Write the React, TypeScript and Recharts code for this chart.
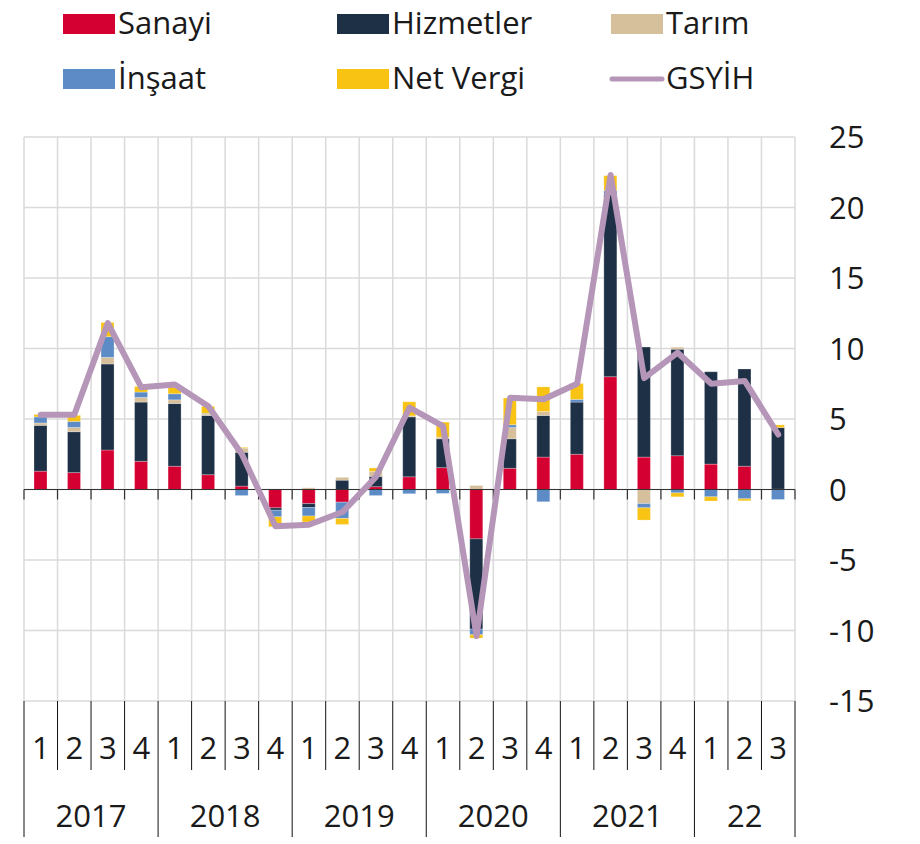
import React from "react";
import { ComposedChart, Bar, Line, XAxis, YAxis, CartesianGrid, ReferenceLine } from "recharts";

/* ---------- data (contributions to annual growth, % points) ---------- */
const quarters = ["1", "2", "3", "4", "1", "2", "3", "4", "1", "2", "3", "4", "1", "2", "3", "4", "1", "2", "3", "4", "1", "2", "3"];
const years = ["2017", "2017", "2017", "2017", "2018", "2018", "2018", "2018", "2019", "2019", "2019", "2019", "2020", "2020", "2020", "2020", "2021", "2021", "2021", "2021", "22", "22", "22"];

const sanayi = [1.3, 1.2, 2.8, 2.0, 1.65, 1.05, 0.24, -1.3, -1.0, -0.9, 0.2, 0.9, 1.55, -3.5, 1.5, 2.3, 2.5, 8.0, 2.3, 2.4, 1.8, 1.65, 0.02];
const hizmetler = [3.25, 2.9, 6.1, 4.2, 4.45, 4.2, 2.4, -0.17, -0.28, 0.66, 0.73, 4.25, 2.05, -6.4, 2.1, 2.95, 3.7, 12.9, 7.8, 7.55, 6.55, 6.9, 4.37];
const tarim = [0.17, 0.3, 0.47, 0.33, 0.26, 0.1, 0.3, 0, 0.12, 0.2, 0.35, 0.07, 0.12, 0.28, 0.8, 0.28, 0, 0, -1.0, 0.14, 0, 0, 0];
const insaat = [0.43, 0.43, 1.47, 0.38, 0.43, 0.05, -0.43, -0.47, -0.6, -1.15, -0.43, -0.3, -0.28, -0.4, 0.19, -0.87, 0.19, 0.3, -0.3, -0.24, -0.52, -0.66, -0.71];
const netVergi = [0.17, 0.43, 1.0, 0.4, 0.47, 0.5, 0.05, -0.7, -0.43, -0.43, 0.25, 1.0, 1.06, -0.24, 1.9, 1.75, 1.13, 1.06, -0.87, -0.28, -0.3, -0.14, 0.19];
const gsyih = [5.3, 5.3, 11.8, 7.25, 7.45, 5.9, 2.5, -2.6, -2.5, -1.6, 0.9, 5.8, 4.5, -10.4, 6.5, 6.4, 7.5, 22.3, 7.9, 9.7, 7.5, 7.7, 3.9];

const yTicks = [-15, -10, -5, 0, 5, 10, 15, 20, 25];

/* ---------- visuals ---------- */
const FONT = "'Open Sans', 'Noto Sans', sans-serif";
const FONT_SIZE = 31;
const TEXT = "#1a1a1a";
const colors = {
  sanayi: "#d50032",
  hizmetler: "#1d3045",
  tarim: "#d6bf9b",
  insaat: "#5c8bc6",
  netVergi: "#f8c313",
  gsyih: "#b595b8",
};

const W = 920;
const H = 844;
const MARGIN = { top: 137, right: 0, bottom: 0, left: 24 };
const Y_AXIS_W = 125;
const X_AXIS_H = 143;
const PLOT_W = W - MARGIN.left - MARGIN.right - Y_AXIS_W;
const BAND = PLOT_W / quarters.length;

const data = quarters.map((q, i) => ({
  q,
  year: years[i],
  sanayi: sanayi[i],
  hizmetler: hizmetler[i],
  tarim: tarim[i],
  insaat: insaat[i],
  netVergi: netVergi[i],
  gsyih: gsyih[i],
}));

/* quarter numbers + year row with separators */
function PeriodTick(props: any) {
  const { x, y, payload, index } = props;
  const i = index ?? payload.index;
  const left = x - BAND / 2;
  const yearStart = i === 0 || years[i] !== years[i - 1];
  const isLast = i === quarters.length - 1;
  let yearCount = 0;
  if (yearStart) {
    for (let k = i; k < years.length && years[k] === years[i]; k++) yearCount++;
  }
  return (
    <g>
      <line x1={left} x2={left} y1={y} y2={y + (yearStart ? 136 : 69)} stroke="#111" strokeWidth={1} />
      {isLast && <line x1={left + BAND} x2={left + BAND} y1={y} y2={y + 136} stroke="#111" strokeWidth={1} />}
      <text x={x} y={y + 47} dy="0.355em" textAnchor="middle" fontSize={FONT_SIZE} fontFamily={FONT} fill={TEXT}>
        {payload.value}
      </text>
      {yearStart && (
        <text x={left + (yearCount * BAND) / 2} y={y + 115} dy="0.355em" textAnchor="middle" fontSize={FONT_SIZE} fontFamily={FONT} fill={TEXT}>
          {years[i]}
        </text>
      )}
    </g>
  );
}

/* zero line with small ticks at the quarter boundaries */
function ZeroLine(props: any) {
  const { x1, y1, x2 } = props;
  const n = quarters.length;
  const step = (x2 - x1) / n;
  return (
    <g>
      <line x1={x1} x2={x2} y1={y1} y2={y1} stroke="#333" strokeWidth={1.2} />
      {Array.from({ length: n + 1 }, (_, k) => (
        <line key={k} x1={x1 + k * step} x2={x1 + k * step} y1={y1} y2={y1 + 10} stroke="#333" strokeWidth={1.2} />
      ))}
    </g>
  );
}

const legendItems = [
  { name: "Sanayi", color: colors.sanayi, x: 63, row: 0 },
  { name: "Hizmetler", color: colors.hizmetler, x: 337, row: 0 },
  { name: "Tarım", color: colors.tarim, x: 611, row: 0 },
  { name: "İnşaat", color: colors.insaat, x: 63, row: 1 },
  { name: "Net Vergi", color: colors.netVergi, x: 337, row: 1 },
  { name: "GSYİH", color: colors.gsyih, x: 611, row: 1, line: true },
];

function TopLegend() {
  return (
    <svg width={W} height={115} style={{ position: "absolute", left: 0, top: 0 }}>
      {legendItems.map((it) => {
        const top = 14 + it.row * 55;
        return (
          <g key={it.name}>
            {it.line ? (
              <line x1={it.x + 1} x2={it.x + 51} y1={top + 10} y2={top + 10} stroke={it.color} strokeWidth={5} strokeLinecap="round" />
            ) : (
              <rect x={it.x} y={top} width={52} height={20} fill={it.color} />
            )}
            <text x={it.x + 55} y={top + 20} fontSize={FONT_SIZE} fontFamily={FONT} fill={TEXT}>
              {it.name}
            </text>
          </g>
        );
      })}
    </svg>
  );
}

export default function App() {
  const barStroke = { stroke: "#ffffff", strokeWidth: 0.5, strokeOpacity: 0.5 };
  return (
    <div style={{ position: "absolute", left: 0, top: 0, width: W, height: H, background: "#fff" }}>
      <TopLegend />
      <div style={{ position: "absolute", left: 0, top: 0 }}>
        <ComposedChart width={W} height={H} data={data} margin={MARGIN} stackOffset="sign" barSize={13}>
          <CartesianGrid
            stroke="#dadada"
            strokeWidth={1.5}
            verticalCoordinatesGenerator={({ offset }: any) =>
              Array.from({ length: quarters.length + 1 }, (_, k) => offset.left + (k * offset.width) / quarters.length)
            }
          />
          <XAxis
            dataKey="q"
            height={X_AXIS_H}
            interval={0}
            axisLine={false}
            tickLine={false}
            tickSize={0}
            tickMargin={0}
            tick={<PeriodTick />}
          />
          <YAxis
            orientation="right"
            width={Y_AXIS_W}
            domain={[-15, 25]}
            ticks={yTicks}
            interval={0}
            axisLine={false}
            tickLine={false}
            tickSize={0}
            tickMargin={34}
            tick={{ fontSize: FONT_SIZE, fill: TEXT, fontFamily: FONT }}
          />
          <Bar dataKey="sanayi" stackId="a" fill={colors.sanayi} {...barStroke} isAnimationActive={false} />
          <Bar dataKey="hizmetler" stackId="a" fill={colors.hizmetler} {...barStroke} isAnimationActive={false} />
          <Bar dataKey="tarim" stackId="a" fill={colors.tarim} {...barStroke} isAnimationActive={false} />
          <Bar dataKey="insaat" stackId="a" fill={colors.insaat} {...barStroke} isAnimationActive={false} />
          <Bar dataKey="netVergi" stackId="a" fill={colors.netVergi} {...barStroke} isAnimationActive={false} />
          <ReferenceLine y={0} shape={ZeroLine} />
          <Line
            dataKey="gsyih"
            stroke={colors.gsyih}
            strokeWidth={6}
            strokeLinecap="round"
            strokeLinejoin="round"
            dot={false}
            activeDot={false}
            type="linear"
            isAnimationActive={false}
          />
        </ComposedChart>
      </div>
    </div>
  );
}
